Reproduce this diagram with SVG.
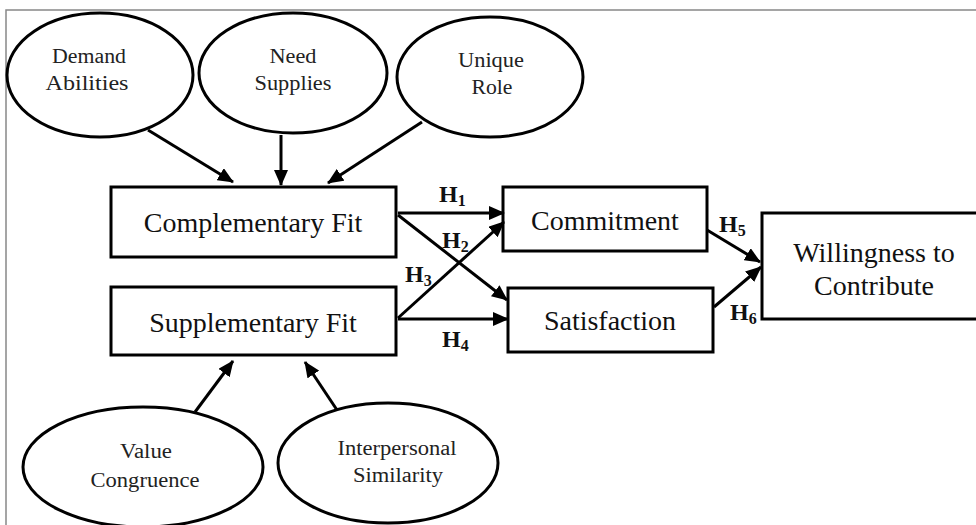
<svg xmlns="http://www.w3.org/2000/svg" width="976" height="525" viewBox="0 0 976 525">
<defs>
<marker id="ah" markerUnits="userSpaceOnUse" markerWidth="16" markerHeight="14" refX="15" refY="7" orient="auto">
<path d="M0,0 L16,7 L0,14 z" fill="#000"/>
</marker>
<style>
.sh{fill:#fff;stroke:#000;stroke-width:3}
.el{font-family:"Liberation Serif","Times New Roman",serif;font-size:20px;fill:#222;text-anchor:middle}
.bx{font-family:"Liberation Serif","Times New Roman",serif;font-size:28px;fill:#111;text-anchor:middle}
.hl{font-family:"Liberation Serif","Times New Roman",serif;font-size:24px;font-weight:bold;fill:#111}
.sub{font-size:16px}
.cn line{stroke:#000;stroke-width:3;marker-end:url(#ah)}
</style>
</defs>
<rect width="976" height="525" fill="#fff"/>
<path d="M976,10 H6 V525" fill="none" stroke="#888" stroke-width="1.5"/>

<g id="demand">
<ellipse class="sh" cx="100" cy="75" rx="93" ry="62"/>
<text class="el" x="89" y="63" textLength="74" lengthAdjust="spacingAndGlyphs">Demand</text>
<text class="el" x="87" y="90" textLength="83" lengthAdjust="spacingAndGlyphs">Abilities</text>
</g>
<g id="need">
<ellipse class="sh" cx="293" cy="73" rx="94" ry="60"/>
<text class="el" x="293" y="63" textLength="47" lengthAdjust="spacingAndGlyphs">Need</text>
<text class="el" x="293" y="90" textLength="77" lengthAdjust="spacingAndGlyphs">Supplies</text>
</g>
<g id="unique">
<ellipse class="sh" cx="490" cy="77" rx="93" ry="60"/>
<text class="el" x="491" y="67" textLength="66" lengthAdjust="spacingAndGlyphs">Unique</text>
<text class="el" x="492" y="94" textLength="41" lengthAdjust="spacingAndGlyphs">Role</text>
</g>
<g id="value">
<ellipse class="sh" cx="143" cy="467" rx="120" ry="60"/>
<text class="el" x="146" y="458" textLength="52" lengthAdjust="spacingAndGlyphs">Value</text>
<text class="el" x="145" y="487" textLength="109" lengthAdjust="spacingAndGlyphs">Congruence</text>
</g>
<g id="interpersonal">
<ellipse class="sh" cx="388" cy="463" rx="110" ry="60"/>
<text class="el" x="397" y="455" textLength="119" lengthAdjust="spacingAndGlyphs">Interpersonal</text>
<text class="el" x="398" y="482" textLength="90" lengthAdjust="spacingAndGlyphs">Similarity</text>
</g>

<g id="complementary">
<rect class="sh" x="111" y="187" width="285" height="70"/>
<text class="bx" x="253" y="232">Complementary Fit</text>
</g>
<g id="supplementary">
<rect class="sh" x="111" y="287" width="285" height="68"/>
<text class="bx" x="253" y="332">Supplementary Fit</text>
</g>
<g id="commitment">
<rect class="sh" x="503" y="187" width="204" height="64"/>
<text class="bx" x="605" y="230">Commitment</text>
</g>
<g id="satisfaction">
<rect class="sh" x="508" y="288" width="205" height="64"/>
<text class="bx" x="610" y="330">Satisfaction</text>
</g>
<g id="willingness">
<rect class="sh" x="762" y="213" width="220" height="106"/>
<text class="bx" x="874" y="262">Willingness to</text>
<text class="bx" x="874" y="295">Contribute</text>
</g>

<g class="cn" id="connectors">
<line x1="148" y1="130" x2="233" y2="182"/>
<line x1="281" y1="135" x2="281" y2="185"/>
<line x1="422" y1="122" x2="328" y2="183"/>
<line x1="195" y1="412" x2="233" y2="361"/>
<line x1="337" y1="410" x2="305" y2="362"/>
<line x1="398" y1="213" x2="504" y2="213"/>
<line x1="398" y1="215" x2="507" y2="300"/>
<line x1="398" y1="318" x2="504" y2="222"/>
<line x1="398" y1="319" x2="508" y2="319"/>
<line x1="707" y1="230" x2="760" y2="262"/>
<line x1="714" y1="307" x2="761" y2="267"/>
</g>

<g id="labels">
<text class="hl" x="439" y="202">H<tspan class="sub" dy="4">1</tspan></text>
<text class="hl" x="442" y="248">H<tspan class="sub" dy="4">2</tspan></text>
<text class="hl" x="405" y="282">H<tspan class="sub" dy="4">3</tspan></text>
<text class="hl" x="442" y="347">H<tspan class="sub" dy="4">4</tspan></text>
<text class="hl" x="719" y="232">H<tspan class="sub" dy="4">5</tspan></text>
<text class="hl" x="730" y="320">H<tspan class="sub" dy="4">6</tspan></text>
</g>
</svg>
